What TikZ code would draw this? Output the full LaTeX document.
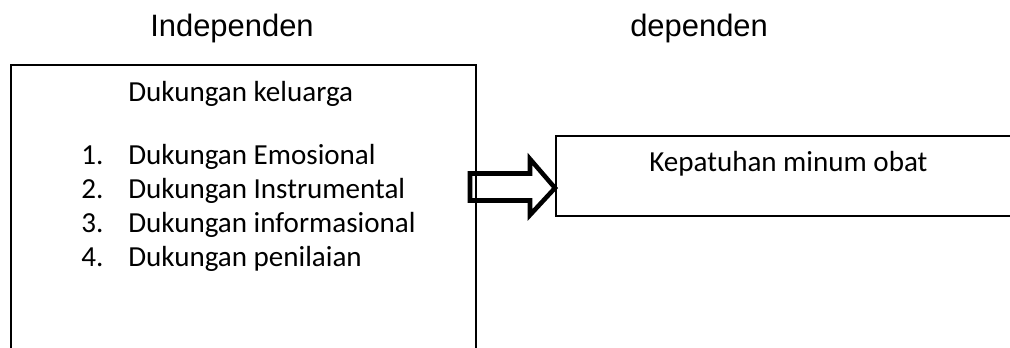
\documentclass[tikz,border=0pt]{standalone}
\usepackage{fontspec}
\setmainfont{Carlito}
\newfontfamily\arialf{Liberation Sans}
\begin{document}
\begin{tikzpicture}[x=0.75pt,y=-0.75pt,
  heading/.style={font=\arialf\fontsize{23.2}{28}\selectfont, inner sep=0, anchor=base west},
  body/.style={font=\fontsize{21.8}{26}\selectfont, inner sep=0, anchor=base west},
  frame/.style={draw, line width=1.5pt, inner sep=0, anchor=north west},
  arrowline/.style={draw, line width=3.4pt, line join=miter}]
\useasboundingbox (0,0) rectangle (1010,347);
\clip (0,0) rectangle (1010,347);
\node[heading] (indep) at (150,36) {Independen};
\node[heading] (dep) at (630,36) {dependen};
\node[frame, minimum width=348.75pt, minimum height=267pt] (lbox) at (10,64) {};
\node[frame, minimum width=375pt, minimum height=60pt] (kbox) at (555,135) {};
\node[body] (klg) at (128,101) {Dukungan keluarga};
\node[body] (n1) at (81,164) {1.};
\node[body] (t1) at (128,164) {Dukungan Emosional};
\node[body] (n2) at (81,198) {2.};
\node[body] (t2) at (128,198) {Dukungan Instrumental};
\node[body] (n3) at (81,232) {3.};
\node[body] (t3) at (128,232) {Dukungan informasional};
\node[body] (n4) at (81,266) {4.};
\node[body] (t4) at (128,266) {Dukungan penilaian};
\node[body] (kep) at (649,171) {Kepatuhan minum obat};
\path (kbox.west) ++(0,12) coordinate (tip);
\draw[arrowline] (tip) -- ++(-25,-29) -- ++(0,14.5) -- ++(-60,0) -- ++(0,27) -- ++(60,0) -- ++(0,14.5) -- cycle;
\end{tikzpicture}
\end{document}
